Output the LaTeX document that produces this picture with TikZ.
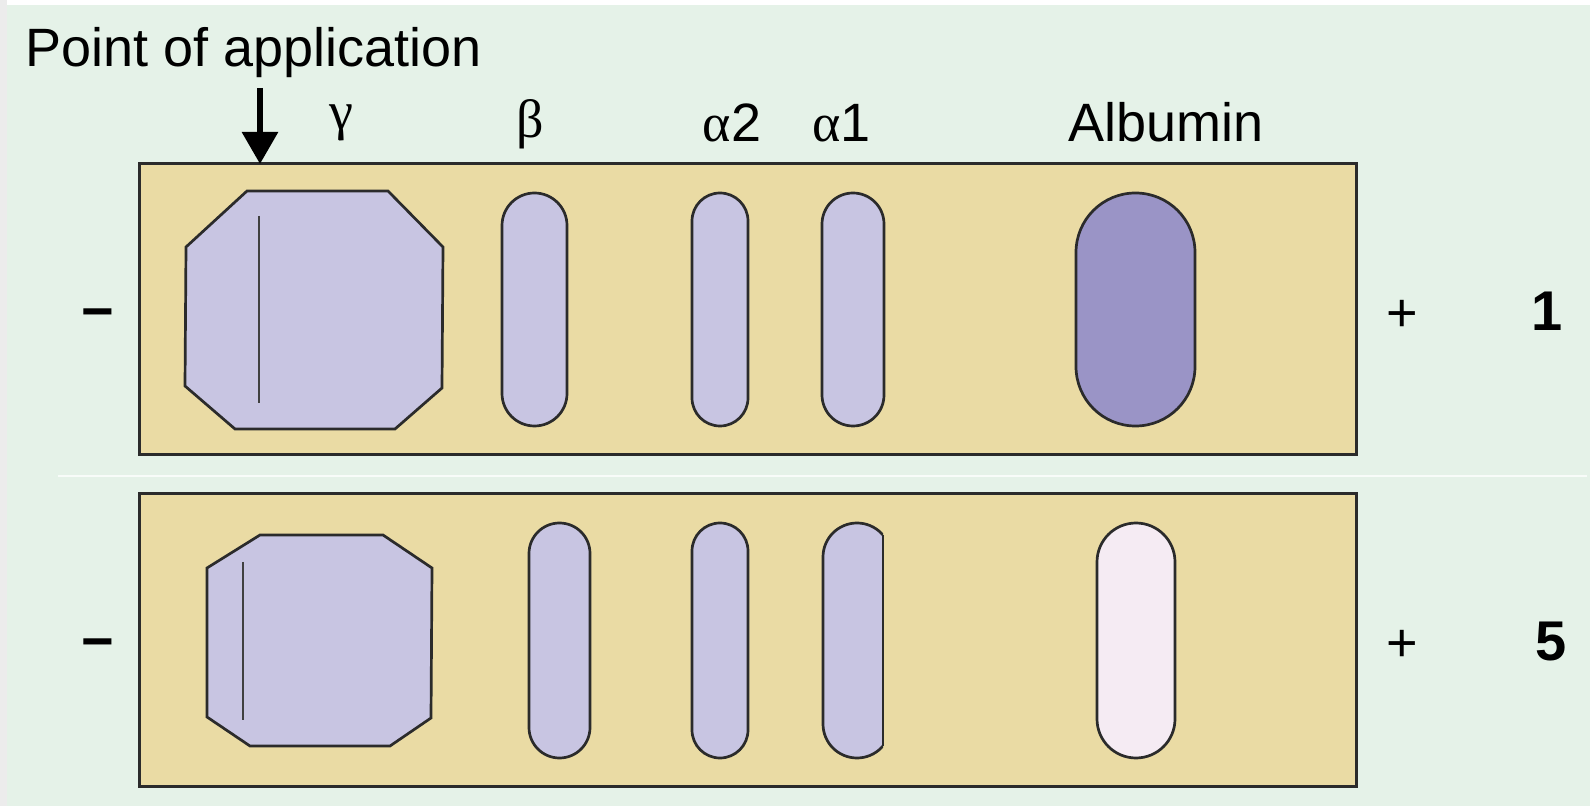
\documentclass[tikz,border=0pt]{standalone}
\usepackage{fontspec}
\setmainfont{Liberation Sans}
\newfontfamily\grk{Liberation Serif}
\usetikzlibrary{arrows.meta}
\definecolor{bggreen}{HTML}{E5F2E8}
\definecolor{stripgray}{HTML}{ECECEC}
\definecolor{gelfill}{HTML}{EADBA4}
\definecolor{bandfill}{HTML}{C8C5E2}
\definecolor{albdark}{HTML}{9A94C6}
\definecolor{albpale}{HTML}{F5EBF3}
\definecolor{outl}{HTML}{2B2B2B}
\definecolor{sepline}{HTML}{F8FCF9}
\begin{document}
\begin{tikzpicture}[x=0.5pt,y=-0.5pt,
  lbl/.style={inner sep=0pt, text=black, font=\fontsize{27}{30}\selectfont},
  signlbl/.style={inner sep=0pt, text=black, font=\bfseries\fontsize{28}{31}\selectfont},
  glbl/.style={inner sep=0pt, text=black, font=\grk\fontsize{27}{30}\selectfont},
  numlbl/.style={inner sep=0pt, text=black, font=\bfseries\fontsize{28}{31}\selectfont},
  gel/.style={draw=outl, line width=1.5pt, fill=gelfill},
  band/.style={draw=outl, line width=1.35pt, fill=bandfill, rectangle, inner sep=0pt},
  blob/.style={draw=outl, line width=1.35pt, fill=bandfill, line join=miter},
  origin/.style={draw=outl!90, line width=1.35pt},
  arr/.style={draw=black, line width=3pt, -{Triangle[length=16pt,width=17.5pt]}}
]
\useasboundingbox (0,0) rectangle (1590,806);
% background
\fill[white] (0,0) rectangle (1590,806);
\fill[stripgray] (0,0) rectangle (7,806);
\fill[bggreen] (7,5) rectangle (1590,806);
\draw[sepline, line width=1pt] (58,476) -- (1587,476);

% gel strips
\draw[gel] (139,164) rectangle (1356,455);
\draw[gel] (139,494) rectangle (1356,786);

% top row
\draw[blob] (247,191) -- (388,191) -- (443,247) -- (442,388) -- (395,429) -- (235,429) -- (185,386) -- (186,247) -- cycle;
\draw[origin] (259,216) -- (259,403);
\node[band, minimum width=32.5pt, minimum height=116.5pt, rounded corners=16.25pt] (beta1) at (534.5,309.5) {};
\node[band, minimum width=28pt, minimum height=116.5pt, rounded corners=14pt] (alphatwo1) at (720,309.5) {};
\node[band, minimum width=31pt, minimum height=116.5pt, rounded corners=15.5pt] (alphaone1) at (853,309.5) {};
\node[band, fill=albdark, minimum width=59.5pt, minimum height=116.5pt, rounded corners=29.7pt] (alb1) at (1135.5,309.5) {};

% bottom row
\draw[blob] (260,535) -- (383,535) -- (432,568) -- (431,718) -- (390,746) -- (250,746) -- (207,717) -- (207,568) -- cycle;
\draw[origin] (243,562) -- (243,720);
\node[band, minimum width=30.5pt, minimum height=117.5pt, rounded corners=15.25pt] (beta5) at (559.5,640.5) {};
\node[band, minimum width=28pt, minimum height=117.5pt, rounded corners=14pt] (alphatwo5) at (720,640.5) {};
\begin{scope}
  \clip (810,505) rectangle (883,775);
  \node[band, minimum width=34pt, minimum height=117.5pt, rounded corners=17pt] (alphaone5) at (857,640.5) {};
\end{scope}
\draw[outl, line width=1.35pt] (883,535.1) -- (883,745.9);
\node[band, fill=albpale, minimum width=39pt, minimum height=117.5pt, rounded corners=19.5pt] (alb5) at (1136,640.5) {};

% labels
\node[lbl, anchor=base west] (poa) at (25,67) {Point of application};
\coordinate (arrtop) at (260,88);
\coordinate (arrtip) at (260,164);
\draw[arr] (arrtop) -- (arrtip);
\node[glbl, anchor=base] (gam) at (341,130) {γ};
\node[glbl, anchor=base] (bet) at (530,138) {β};
\node[lbl, anchor=base] (a2) at (732,142) {{\grk α}2};
\node[lbl, anchor=base] (a1) at (841.5,142) {{\grk α}1};
\node[lbl, anchor=base] (albl) at (1166,142) {Albumin};

\node[signlbl] (minus1) at (98,320) {−};
\node[signlbl] (minus5) at (98,650) {−};
\node[lbl] (plus1) at (1402,316) {+};
\node[lbl] (plus5) at (1402,646) {+};
\node[numlbl] (n1) at (1547,311) {1};
\node[numlbl] (n5) at (1551,642) {5};
\end{tikzpicture}
\end{document}
